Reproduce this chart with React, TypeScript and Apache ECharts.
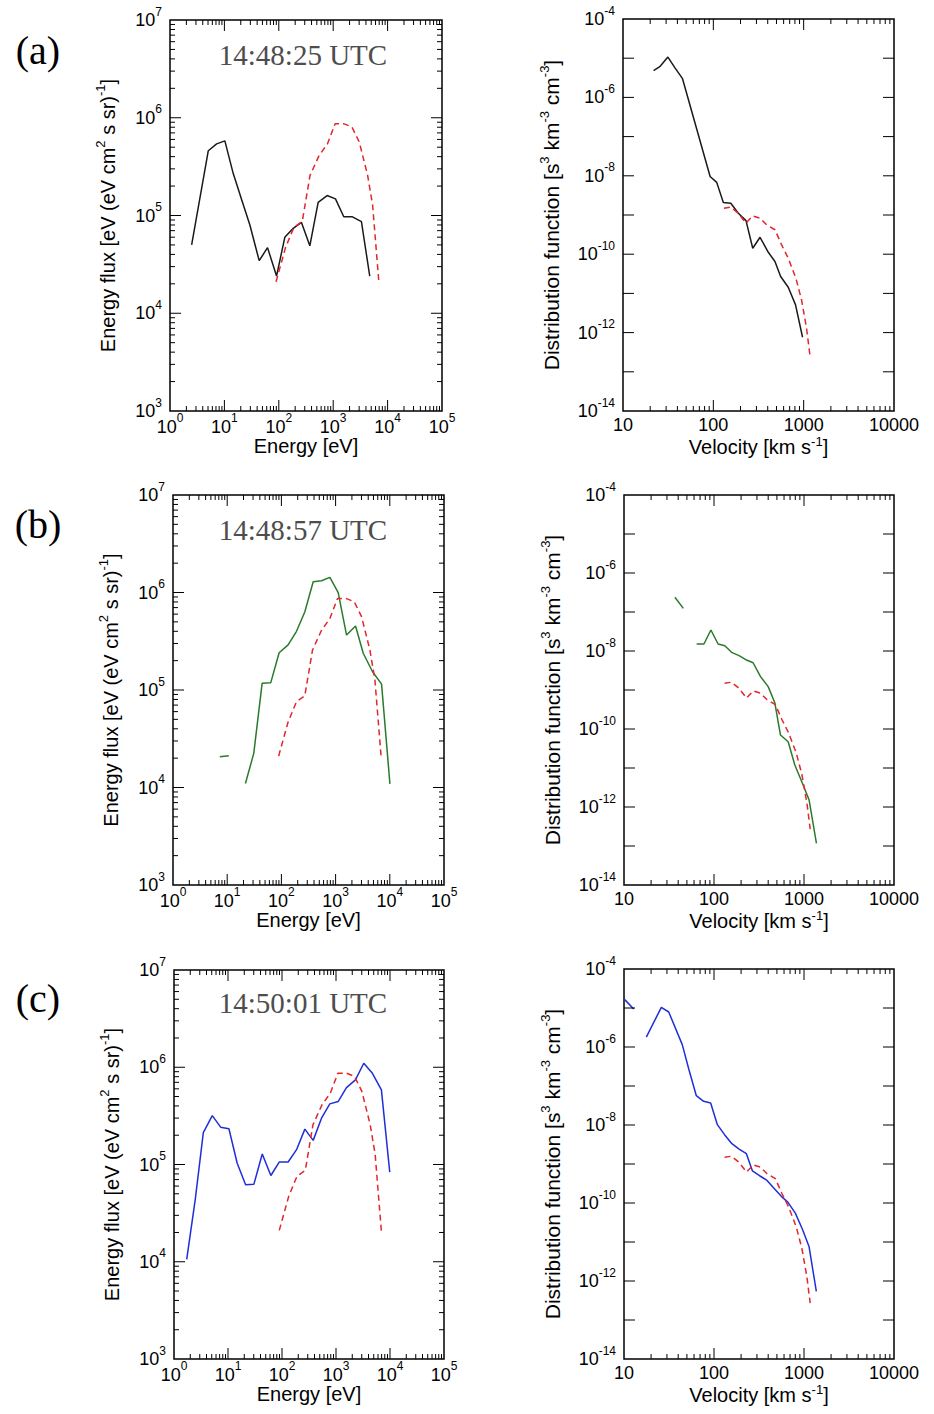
import React, { useEffect, useRef } from "react";
import * as echarts from "echarts";

const SANS = '"Liberation Sans", Arial, Helvetica, sans-serif';
const SERIF = '"Liberation Serif", "Times New Roman", serif';

const BLACK = "#1a1a1a";
const GREEN = "#2b7a2b";
const BLUE = "#1f2fd8";
const RED = "#e3262b";

// ---------- Energy spectra (left column) ----------
const energyA = [2.5, 5.06, 7.2, 10.2, 14.5, 20.7, 29.4, 43.6, 62.1, 90.9, 129, 184, 261, 372, 529, 773, 1101, 1566, 2259, 3304, 4697];
const fluxA = [5.0e4, 4.6e5, 5.4e5, 5.8e5, 2.7e5, 1.46e5, 8.0e4, 3.45e4, 4.69e4, 2.4e4, 5.98e4, 7.4e4, 8.5e4, 4.9e4, 1.36e5, 1.6e5, 1.48e5, 9.7e4, 9.7e4, 8.65e4, 2.4e4];

const energyRef = [89, 133, 190, 270, 375, 550, 783, 1086, 1549, 2206, 3013, 4296, 5310, 6950];
const fluxRef = [2.1e4, 4.7e4, 7.6e4, 8.7e4, 2.57e5, 4.1e5, 5.4e5, 8.7e5, 8.7e5, 8.05e5, 5.65e5, 2.57e5, 1.27e5, 2.0e4];

const energyB1 = [7.3, 10.7];
const fluxB1 = [2.07e4, 2.12e4];
const energyB = [21.7, 30.9, 44.1, 63.7, 90.8, 133, 190, 270, 386, 550, 784, 1117, 1592, 2334, 3234, 4812, 7050, 10050];
const fluxB = [1.1e4, 2.24e4, 1.17e5, 1.19e5, 2.41e5, 2.9e5, 4.0e5, 6.3e5, 1.29e6, 1.32e6, 1.43e6, 9.96e5, 3.66e5, 4.53e5, 2.38e5, 1.54e5, 1.15e5, 1.09e4];

const energyC = [1.72, 2.48, 3.49, 5.12, 7.3, 10.4, 14.8, 21.2, 30.2, 43.1, 62.2, 88.7, 130, 186, 265, 378, 539, 768, 1095, 1562, 2291, 3266, 4725, 6934, 9890];
const fluxC = [1.06e4, 4.4e4, 2.13e5, 3.18e5, 2.42e5, 2.33e5, 1.03e5, 6.18e4, 6.28e4, 1.28e5, 7.71e4, 1.06e5, 1.06e5, 1.42e5, 2.31e5, 1.77e5, 2.99e5, 4.2e5, 4.44e5, 6.18e5, 7.41e5, 1.1e6, 8.67e5, 5.85e5, 8.34e4];

// ---------- Distribution functions (right column) ----------
const velA = [21.8, 25.8, 31.4, 37.8, 45.6, 92.1, 109, 129, 156, 189, 230, 273, 329, 406, 481, 556, 675, 813, 972];
const dfA = [4.8e-6, 6.2e-6, 1.07e-5, 5.6e-6, 3.0e-6, 9.6e-9, 6.8e-9, 2.08e-9, 2.0e-9, 1.11e-9, 7.2e-10, 1.42e-10, 2.7e-10, 1.12e-10, 6.5e-11, 2.69e-11, 1.44e-11, 5.1e-12, 7.6e-13];

const velRef = [131, 156, 189, 230, 273, 329, 389, 481, 570, 675, 820, 948, 1076, 1172];
const dfRef = [1.49e-9, 1.58e-9, 1.11e-9, 6.2e-10, 9.5e-10, 8.3e-10, 5.6e-10, 4.2e-10, 1.73e-10, 7.9e-11, 2.44e-11, 6.8e-12, 1.29e-12, 2.7e-13];

const velB1 = [36.8, 45.6];
const dfB1 = [2.38e-7, 1.24e-7];
const velB = [64.1, 77.3, 92.4, 111, 132, 159, 190, 230, 272, 329, 400, 474, 548, 667, 791, 978, 1140, 1375];
const dfB = [1.51e-8, 1.51e-8, 3.45e-8, 1.51e-8, 1.37e-8, 9.06e-9, 7.6e-9, 5.87e-9, 5.0e-9, 2.2e-9, 1.22e-9, 4.7e-10, 7.0e-11, 4.7e-11, 1.19e-11, 3.66e-12, 1.51e-12, 1.17e-13];

const velC1 = [10.2, 12.8];
const dfC1 = [1.64e-5, 9.4e-6];
const velC = [17.7, 26.0, 31.4, 44.4, 52.7, 63.6, 76.7, 91.8, 109, 131, 158, 190, 229, 267, 321, 388, 472, 560, 664, 801, 958, 1137, 1371];
const dfC = [1.8e-6, 1.04e-5, 7.9e-6, 1.15e-6, 2.6e-7, 5.65e-8, 4.04e-8, 3.67e-8, 1.02e-8, 5.65e-9, 3.32e-9, 2.42e-9, 1.84e-9, 6.7e-10, 5.0e-10, 3.8e-10, 2.28e-10, 1.48e-10, 1.04e-10, 5.5e-11, 2.15e-11, 7.7e-12, 5.4e-13];

// ---------- Ticks and labels ----------
const energyTicks = [1, 10, 100, 1000, 10000, 100000];
const fluxTicks = [1e3, 1e4, 1e5, 1e6, 1e7];
const velocityTicks = [10, 100, 1000, 10000];
const dfTicks = [1e-14, 1e-13, 1e-12, 1e-11, 1e-10, 1e-9, 1e-8, 1e-7, 1e-6, 1e-5, 1e-4];
const dfLabelTicks = [1e-14, 1e-12, 1e-10, 1e-8, 1e-6, 1e-4];
const minorSteps = [2, 3, 4, 5, 6, 7, 8, 9];

const panelLetters = ["(a)", "(b)", "(c)"];
const timestamps = ["14:48:25 UTC", "14:48:57 UTC", "14:50:01 UTC"];
const energyTitle = "{t|Energy [eV]}";
const fluxTitle = "{t|Energy flux [eV (eV cm}{s|2}{t| s sr)}{s|-1}{t|]}";
const velocityTitle = "{t|Velocity [km s}{s|-1}{t|]}";
const dfTitle = "{t|Distribution function [s}{s|3}{t| km}{s|-3}{t| cm}{s|-3}{t|]}";

const zip = (xs: number[], ys: number[]) => xs.map((x, i) => [x, ys[i]]);
const minorsOf = (decades: number[]) =>
  decades.slice(0, -1).flatMap((d) => minorSteps.map((m) => m * d));
const interior = (arr: number[]) => arr.slice(1, -1);

const fmtPow = (v: number) => `{b|10}{s|${Math.round(Math.log10(v))}}`;
const fmtPowEven = (v: number) => {
  const e = Math.round(Math.log10(v));
  return e % 2 === 0 ? `{b|10}{s|${e}}` : "";
};
const fmtPlain = (v: number) => `{p|${Math.round(v)}}`;

// x-axis labels: base at bottom of a short line, superscript at top
const tickRichX = {
  b: { fontFamily: SANS, fontSize: 18, color: "#000", lineHeight: 24.5, verticalAlign: "bottom" },
  s: { fontFamily: SANS, fontSize: 12, color: "#000", lineHeight: 12, verticalAlign: "top" },
  p: { fontFamily: SANS, fontSize: 18, color: "#000", lineHeight: 20 },
};
// y-axis labels: base centred on the tick, superscript at top
const tickRichY = {
  b: { fontFamily: SANS, fontSize: 18, color: "#000", lineHeight: 29, verticalAlign: "middle" },
  s: { fontFamily: SANS, fontSize: 12, color: "#000", lineHeight: 12, verticalAlign: "top" },
};
const nameRich = (size: number, sup: number, lh: number) => ({
  t: { fontFamily: SANS, fontSize: size, color: "#000", lineHeight: lh, verticalAlign: "bottom" },
  s: { fontFamily: SANS, fontSize: sup, color: "#000", lineHeight: 12, verticalAlign: "top" },
});

const grids = [
  { left: 170, top: 20, width: 272, height: 391 },
  { left: 623, top: 19, width: 271, height: 392 },
  { left: 173, top: 495, width: 271, height: 390 },
  { left: 624, top: 495, width: 270, height: 390 },
  { left: 174, top: 970, width: 270, height: 389 },
  { left: 624, top: 969, width: 270, height: 390 },
];

function tickSeries(
  g: number,
  ext: [number, number, number, number],
  xMajor: number[],
  xMinor: number[],
  yMajor: number[],
  yMinor: number[]
) {
  const [xMin, xMax, yMin, yMax] = ext;
  const data = [
    ...xMajor.map((v) => [v, yMin, 0]),
    ...xMinor.map((v) => [v, yMin, 1]),
    ...yMajor.map((v) => [xMin, v, 2]),
    ...yMinor.map((v) => [xMin, v, 3]),
  ];
  return {
    type: "custom",
    xAxisIndex: g,
    yAxisIndex: g,
    silent: true,
    clip: false,
    z: 5,
    dimensions: ["x", "y", "kind"],
    encode: { x: 0, y: 1 },
    data,
    renderItem: (_params: any, api: any) => {
      const kind = api.value(2);
      const st = { stroke: "#000", lineWidth: 1 };
      if (kind < 2) {
        const v = api.value(0);
        const b = api.coord([v, yMin]);
        const t = api.coord([v, yMax]);
        const L = kind === 0 ? 11 : 5;
        return {
          type: "group",
          children: [
            { type: "line", shape: { x1: b[0], y1: b[1], x2: b[0], y2: b[1] - L }, style: st },
            { type: "line", shape: { x1: t[0], y1: t[1], x2: t[0], y2: t[1] + L }, style: st },
          ],
        };
      }
      const v = api.value(1);
      const l = api.coord([xMin, v]);
      const r = api.coord([xMax, v]);
      const L = kind === 2 ? 11 : 5;
      return {
        type: "group",
        children: [
          { type: "line", shape: { x1: l[0], y1: l[1], x2: l[0] + L, y2: l[1] }, style: st },
          { type: "line", shape: { x1: r[0], y1: r[1], x2: r[0] - L, y2: r[1] }, style: st },
        ],
      };
    },
  };
}

function lineSeries(g: number, data: number[][], color: string, dashed = false) {
  return {
    type: "line",
    xAxisIndex: g,
    yAxisIndex: g,
    data,
    symbol: "none",
    showSymbol: false,
    clip: true,
    z: 3,
    lineStyle: { color, width: 1.5, type: dashed ? [6, 4] : "solid" },
  };
}

const baseAxis = {
  type: "log",
  logBase: 10,
  axisLine: { show: false },
  axisTick: { show: false },
  minorTick: { show: false },
  splitLine: { show: false },
  minorSplitLine: { show: false },
  nameLocation: "middle",
  nameMoveOverlap: false,
};

function buildOption() {
  const xAxis: any[] = [];
  const yAxis: any[] = [];
  const series: any[] = [];
  const leftData = [
    [{ d: zip(energyA, fluxA), c: BLACK }],
    [{ d: zip(energyB1, fluxB1), c: GREEN }, { d: zip(energyB, fluxB), c: GREEN }],
    [{ d: zip(energyC, fluxC), c: BLUE }],
  ];
  const rightData = [
    [{ d: zip(velA, dfA), c: BLACK }],
    [{ d: zip(velB1, dfB1), c: GREEN }, { d: zip(velB, dfB), c: GREEN }],
    [{ d: zip(velC1, dfC1), c: BLUE }, { d: zip(velC, dfC), c: BLUE }],
  ];

  for (let row = 0; row < 3; row++) {
    const gl = row * 2;
    const gr = row * 2 + 1;
    // left: energy flux
    xAxis.push({
      ...baseAxis,
      gridIndex: gl,
      min: 1,
      max: 1e5,
      axisLabel: { customValues: energyTicks, formatter: fmtPow, rich: tickRichX, margin: 0.5, interval: 0, showMinLabel: true, showMaxLabel: true },
      name: energyTitle,
      nameGap: 22.5,
      nameTextStyle: { rich: nameRich(20, 13, 22) },
    });
    yAxis.push({
      ...baseAxis,
      gridIndex: gl,
      min: 1e3,
      max: 1e7,
      axisLabel: { customValues: fluxTicks, formatter: fmtPow, rich: tickRichY, margin: 8, interval: 0, showMinLabel: true, showMaxLabel: true },
      name: fluxTitle,
      nameGap: 52,
      nameTextStyle: { rich: nameRich(20, 13, 24) },
    });
    // right: distribution function
    xAxis.push({
      ...baseAxis,
      gridIndex: gr,
      min: 10,
      max: 10000,
      axisLabel: { customValues: velocityTicks, formatter: fmtPlain, rich: tickRichX, margin: 3.5, interval: 0, showMinLabel: true, showMaxLabel: true },
      name: velocityTitle,
      nameGap: 23.5,
      nameTextStyle: { rich: nameRich(20, 13, 22) },
    });
    yAxis.push({
      ...baseAxis,
      gridIndex: gr,
      min: 1e-14,
      max: 1e-4,
      axisLabel: { customValues: dfLabelTicks, formatter: fmtPowEven, rich: tickRichY, margin: 8, interval: 0, showMinLabel: true, showMaxLabel: true },
      name: dfTitle,
      nameGap: 61,
      nameTextStyle: { rich: nameRich(21, 13, 24) },
    });

    series.push(
      tickSeries(gl, [1, 1e5, 1e3, 1e7], interior(energyTicks), minorsOf(energyTicks), interior(fluxTicks), minorsOf(fluxTicks))
    );
    series.push(tickSeries(gr, [10, 1e4, 1e-14, 1e-4], interior(velocityTicks), minorsOf(velocityTicks), interior(dfTicks), []));

    leftData[row].forEach((s) => series.push(lineSeries(gl, s.d, s.c)));
    series.push(lineSeries(gl, zip(energyRef, fluxRef), RED, true));
    rightData[row].forEach((s) => series.push(lineSeries(gr, s.d, s.c)));
    series.push(lineSeries(gr, zip(velRef, dfRef), RED, true));
  }

  const letterY = [50, 524, 998];
  const stampY = [55, 530, 1003];
  const graphic: any[] = [];
  panelLetters.forEach((t, i) =>
    graphic.push({
      type: "text",
      x: 38,
      y: letterY[i],
      silent: true,
      style: { text: t, fontFamily: SERIF, fontSize: 40, fill: "#000", align: "center", verticalAlign: "middle" },
    })
  );
  timestamps.forEach((t, i) =>
    graphic.push({
      type: "text",
      x: 303,
      y: stampY[i],
      silent: true,
      style: { text: t, fontFamily: SERIF, fontSize: 29, fill: "#4d4d4d", align: "center", verticalAlign: "middle" },
    })
  );

  return {
    animation: false,
    backgroundColor: "#ffffff",
    textStyle: { fontFamily: SANS },
    grid: grids.map((g) => ({ ...g, show: true, borderColor: "#000", borderWidth: 1.5, backgroundColor: "transparent", containLabel: false })),
    xAxis,
    yAxis,
    series,
    graphic,
  };
}

export default function App() {
  const ref = useRef<HTMLDivElement>(null);
  useEffect(() => {
    document.body.style.margin = "0";
    if (!ref.current) return;
    const chart = echarts.init(ref.current, undefined, { renderer: "svg" });
    chart.setOption(buildOption() as any);
    return () => chart.dispose();
  }, []);
  return <div ref={ref} style={{ width: 934, height: 1414, background: "#fff" }} />;
}
